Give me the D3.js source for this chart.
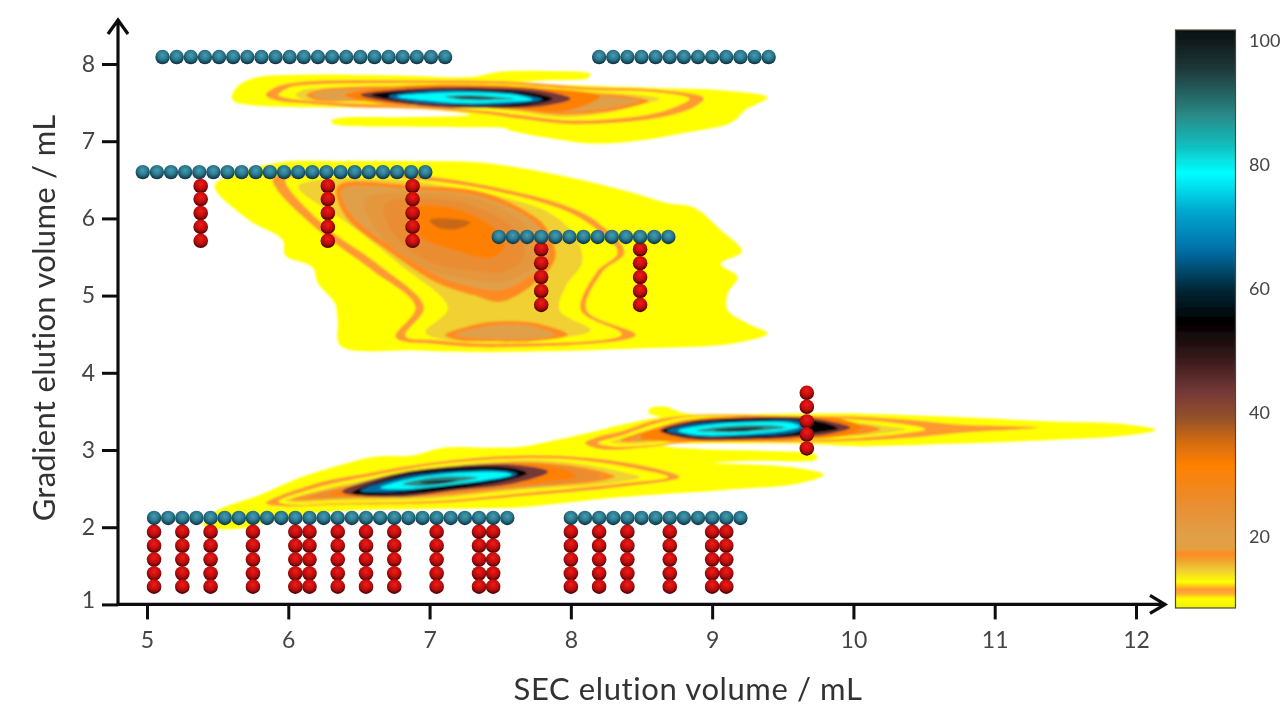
<!DOCTYPE html>
<html><head><meta charset="utf-8">
<script src="https://cdn.jsdelivr.net/npm/d3@7/dist/d3.min.js"></script>
<style>html,body{margin:0;background:#fff}svg{display:block}text{font-family:Lato,sans-serif}</style>
</head><body><svg id="c" width="1281" height="707"></svg>
<script>
// ---------- axes ----------
const xTicks=[5,6,7,8,9,10,11,12];
const yTicks=[1,2,3,4,5,6,7,8];
const barTicks=[20,40,60,80,100];
const xTitle="SEC elution volume / mL";
const yTitle="Gradient elution volume / mL";
// ---------- colour bar ----------
const colorValues=[8.5,10,10.8,11.5,12.7,14.5,16.3,17.3,18,20,25.6,31.5,35.5,39,43.5,49,54.7,60,66.3,72.6,78.7,83,88,95.3,101.8];
const colorHexes=["#f2f000","#ffff00","#fbb030","#ff9a30","#ffff00","#f0d030","#efa030","#ff8a20","#e5a040","#e0a048","#ea8c30","#ff8000","#d06a10","#96522a","#733838","#35181a","#000000","#032838","#0670a8","#00a8d0","#00ffff","#10c0c0","#2a8a88","#1f3a3a","#0a0f10"];
// ---------- contour rings: [level, [[SEC mL, gradient mL], ...]] ----------
const topBlob=[
[10,[[5.60,7.57],[5.64,7.71],[5.76,7.82],[6.08,7.86],[6.79,7.85],[7.29,7.83],[7.50,7.90],[7.82,7.91],[8.14,7.87],[8.12,7.82],[7.82,7.79],[7.57,7.75],[7.92,7.73],[8.28,7.71],[8.63,7.69],[9.06,7.66],[9.39,7.57],[9.35,7.51],[9.23,7.40],[9.18,7.30],[9.11,7.22],[8.84,7.12],[8.49,7.01],[8.14,6.97],[7.85,7.04],[7.57,7.14],[7.53,7.17],[7.29,7.18],[6.79,7.19],[6.33,7.22],[6.30,7.26],[6.37,7.30],[6.79,7.31],[7.29,7.34],[7.07,7.40],[6.72,7.43],[6.08,7.44],[5.73,7.47],[5.62,7.51]]],
[11.5,[[5.84,7.60],[5.91,7.70],[6.10,7.77],[6.93,7.79],[7.50,7.78],[8.14,7.70],[8.60,7.67],[8.94,7.56],[8.88,7.45],[8.61,7.30],[8.02,7.22],[7.64,7.29],[7.41,7.35],[6.93,7.42],[6.46,7.44],[6.10,7.49],[5.91,7.53]]],
[12.7,[[5.93,7.60],[6.00,7.69],[6.15,7.73],[6.93,7.75],[7.50,7.74],[8.14,7.66],[8.56,7.64],[8.84,7.55],[8.77,7.47],[8.56,7.35],[8.02,7.27],[7.64,7.34],[7.41,7.39],[6.93,7.46],[6.46,7.49],[6.12,7.53],[5.99,7.56]]],
[14.5,[[6.05,7.60],[6.10,7.66],[6.22,7.69],[6.93,7.73],[7.50,7.72],[8.14,7.64],[8.49,7.60],[8.63,7.55],[8.49,7.47],[8.21,7.35],[7.92,7.31],[7.64,7.38],[7.41,7.43],[6.93,7.49],[6.46,7.51],[6.15,7.53]]],
[17.3,[[6.13,7.60],[6.21,7.66],[6.44,7.70],[6.93,7.70],[7.50,7.69],[8.14,7.62],[8.42,7.58],[8.55,7.52],[8.42,7.44],[8.14,7.36],[7.89,7.35],[7.64,7.40],[7.41,7.45],[6.93,7.50],[6.46,7.52],[6.21,7.53]]],
[20,[[6.17,7.60],[6.26,7.65],[6.47,7.67],[6.93,7.67],[7.50,7.66],[8.14,7.60],[8.38,7.56],[8.49,7.52],[8.38,7.47],[8.14,7.40],[7.89,7.38],[7.64,7.43],[7.41,7.48],[6.93,7.52],[6.46,7.53],[6.26,7.54]]],
[31.5,[[6.40,7.60],[6.79,7.71],[7.36,7.73],[7.78,7.69],[8.21,7.58],[7.99,7.40],[7.64,7.41],[7.07,7.46],[6.65,7.49]]],
[43.5,[[6.51,7.60],[6.93,7.69],[7.36,7.70],[7.78,7.66],[8.00,7.55],[7.78,7.45],[7.36,7.43],[6.93,7.46]]],
[55,[[6.59,7.60],[6.93,7.66],[7.36,7.67],[7.71,7.63],[7.87,7.55],[7.71,7.47],[7.36,7.45],[6.93,7.49]]],
[66,[[6.71,7.58],[7.00,7.65],[7.36,7.65],[7.67,7.60],[7.80,7.54],[7.64,7.49],[7.29,7.47],[6.93,7.50]]],
[79,[[6.77,7.58],[7.00,7.62],[7.36,7.63],[7.64,7.59],[7.73,7.54],[7.57,7.51],[7.25,7.49],[6.96,7.53]]],
[88,[[7.11,7.58],[7.29,7.60],[7.46,7.58],[7.60,7.55],[7.43,7.53],[7.21,7.54]]],
[96,[[7.18,7.57],[7.36,7.57],[7.46,7.55],[7.32,7.55],[7.20,7.56]]]
];
const middleBlob=[
[10,[[5.48,6.42],[5.66,6.60],[5.96,6.73],[6.37,6.74],[6.93,6.74],[7.38,6.72],[7.97,6.54],[8.44,6.33],[8.68,6.20],[8.87,6.14],[9.06,5.85],[9.21,5.57],[9.06,5.41],[9.18,5.24],[9.11,5.03],[9.11,4.81],[9.25,4.64],[9.39,4.51],[9.15,4.38],[8.56,4.32],[7.50,4.27],[6.91,4.29],[6.37,4.35],[6.35,4.68],[6.33,4.90],[6.21,5.16],[6.17,5.37],[5.98,5.52],[5.96,5.72],[5.72,5.98]]],
[11.5,[[5.89,6.52],[6.08,6.60],[6.65,6.60],[7.10,6.52],[7.50,6.39],[7.97,6.16],[8.19,5.95],[8.38,5.56],[8.22,5.30],[8.11,4.81],[8.46,4.49],[7.50,4.33],[7.06,4.37],[6.76,4.46],[6.90,4.85],[6.59,5.33],[6.21,5.85],[5.92,6.37]]],
[12.7,[[5.98,6.50],[6.12,6.55],[6.65,6.55],[7.07,6.47],[7.50,6.34],[7.96,6.10],[8.15,5.90],[8.33,5.56],[8.18,5.30],[8.07,4.81],[8.36,4.50],[7.50,4.38],[7.07,4.42],[6.83,4.48],[6.96,4.85],[6.64,5.40],[6.26,5.90]]],
[14.5,[[6.07,6.41],[6.22,6.50],[6.79,6.50],[7.15,6.41],[7.57,6.25],[7.85,6.07],[8.03,5.78],[8.08,5.43],[7.97,5.14],[7.92,4.81],[8.14,4.55],[7.50,4.41],[7.07,4.44],[6.97,4.53],[7.13,4.84],[6.79,5.40],[6.44,5.91]]],
[17.3,[[6.35,6.42],[6.40,6.04],[6.73,5.55],[7.06,5.16],[7.32,5.00],[7.50,4.92],[7.73,5.14],[7.89,5.49],[7.82,5.89],[7.73,6.04],[7.38,6.34],[6.91,6.42]]],
[20,[[6.38,6.37],[6.44,6.06],[6.76,5.60],[7.09,5.23],[7.34,5.10],[7.50,5.07],[7.70,5.24],[7.84,5.51],[7.77,5.88],[7.68,6.03],[7.36,6.28],[6.90,6.37]]],
[22.5,[[6.54,6.24],[6.93,6.33],[7.36,6.24],[7.68,5.91],[7.79,5.52],[7.57,5.20],[7.29,5.20],[6.97,5.36],[6.68,5.72]]],
[25.6,[[6.68,6.17],[6.93,6.26],[7.29,6.17],[7.60,5.85],[7.67,5.52],[7.53,5.31],[7.29,5.33],[7.00,5.44],[6.75,5.79]]],
[31.5,[[6.86,6.11],[7.11,6.15],[7.43,5.91],[7.53,5.65],[7.43,5.49],[7.18,5.59],[6.93,5.78]]],
[36,[[7.00,5.98],[7.14,6.00],[7.29,5.95],[7.21,5.87],[7.06,5.88]]],
[17.3,[[7.11,4.49],[7.25,4.59],[7.43,4.66],[7.73,4.65],[7.98,4.49],[7.73,4.41],[7.43,4.41],[7.21,4.42]]],
[20,[[7.18,4.49],[7.43,4.61],[7.71,4.61],[7.89,4.49],[7.71,4.44],[7.43,4.44]]]
];
const bottomBlob=[
[10,[[5.40,2.03],[5.48,2.20],[5.80,2.42],[6.08,2.64],[6.32,2.78],[6.60,2.91],[6.88,2.93],[7.10,3.03],[7.38,3.03],[7.64,3.04],[7.95,3.15],[8.35,3.26],[8.63,3.06],[8.92,3.01],[9.34,2.99],[9.74,2.93],[9.74,2.88],[9.27,2.86],[9.01,2.83],[9.55,2.78],[9.79,2.68],[9.62,2.57],[9.06,2.48],[8.35,2.39],[7.64,2.26],[7.05,2.24],[6.37,2.21],[5.87,2.09],[5.69,1.99],[5.48,1.98]]],
[11.5,[[5.84,2.31],[6.20,2.57],[6.56,2.70],[7.03,2.84],[7.64,2.93],[8.12,2.90],[8.58,2.77],[8.77,2.65],[8.35,2.52],[7.64,2.40],[7.03,2.31],[6.32,2.29],[5.98,2.27]]],
[12.7,[[5.93,2.33],[6.22,2.52],[6.58,2.66],[7.04,2.81],[7.64,2.89],[8.10,2.86],[8.53,2.73],[8.69,2.65],[8.32,2.56],[7.64,2.44],[7.03,2.34],[6.32,2.31],[6.05,2.29]]],
[14.5,[[5.98,2.34],[6.26,2.50],[6.62,2.64],[7.07,2.78],[7.64,2.87],[8.07,2.82],[8.38,2.71],[8.49,2.65],[8.28,2.57],[7.64,2.48],[7.03,2.37],[6.32,2.34],[6.08,2.32]]],
[17.3,[[6.02,2.35],[6.30,2.49],[6.65,2.61],[7.09,2.76],[7.64,2.84],[8.03,2.79],[8.24,2.71],[8.31,2.66],[8.21,2.60],[7.64,2.51],[7.03,2.40],[6.32,2.37],[6.12,2.35]]],
[20,[[6.05,2.36],[6.30,2.47],[6.65,2.58],[7.09,2.71],[7.64,2.81],[7.99,2.75],[8.17,2.70],[8.23,2.66],[8.13,2.61],[7.64,2.55],[7.03,2.43],[6.32,2.40],[6.12,2.38]]],
[25.6,[[6.15,2.39],[6.65,2.60],[7.07,2.74],[7.64,2.83],[7.99,2.78],[8.21,2.66],[7.92,2.56],[7.29,2.47],[6.79,2.40],[6.37,2.38]]],
[31.5,[[6.30,2.43],[6.65,2.58],[7.07,2.73],[7.64,2.82],[7.92,2.77],[8.04,2.66],[7.78,2.58],[7.29,2.49],[6.79,2.43],[6.44,2.40]]],
[43.5,[[6.38,2.46],[6.75,2.69],[7.18,2.79],[7.60,2.81],[7.84,2.72],[7.60,2.57],[7.15,2.47],[6.76,2.39]]],
[55,[[6.45,2.44],[6.76,2.66],[7.18,2.77],[7.57,2.77],[7.69,2.70],[7.53,2.60],[7.15,2.49],[6.79,2.42]]],
[66,[[6.51,2.47],[6.79,2.64],[7.22,2.73],[7.53,2.73],[7.62,2.69],[7.46,2.61],[7.11,2.54],[6.76,2.46]]],
[79,[[6.65,2.51],[6.90,2.64],[7.25,2.71],[7.53,2.71],[7.58,2.68],[7.43,2.62],[7.11,2.54],[6.79,2.49]]],
[88,[[6.81,2.56],[7.00,2.64],[7.23,2.66],[7.34,2.64],[7.14,2.57],[6.93,2.53]]],
[96,[[6.93,2.58],[7.07,2.61],[7.20,2.61],[7.11,2.57],[6.99,2.56]]]
];
const rightBlob=[
[10,[[7.92,3.09],[8.21,3.26],[8.49,3.38],[8.63,3.43],[8.55,3.48],[8.56,3.54],[8.67,3.56],[8.76,3.50],[8.84,3.47],[9.62,3.47],[10.05,3.47],[10.69,3.43],[11.39,3.37],[11.89,3.34],[12.14,3.26],[11.89,3.18],[11.39,3.13],[10.69,3.08],[10.05,3.05],[9.62,3.08],[8.70,3.08],[8.21,3.04],[7.92,3.00]]],
[11.5,[[8.10,3.09],[8.21,3.18],[8.35,3.24],[8.58,3.38],[8.84,3.45],[9.62,3.44],[10.05,3.43],[10.47,3.38],[10.75,3.33],[11.31,3.29],[10.75,3.22],[10.47,3.17],[10.05,3.12],[9.62,3.10],[8.84,3.10],[8.56,3.04],[8.21,3.01]]],
[12.7,[[8.19,3.09],[8.35,3.18],[8.60,3.34],[8.84,3.43],[9.62,3.42],[10.05,3.39],[10.33,3.34],[10.51,3.27],[10.33,3.21],[10.05,3.16],[9.62,3.13],[8.84,3.13],[8.56,3.06],[8.28,3.05]]],
[14.5,[[8.28,3.10],[8.42,3.19],[8.63,3.31],[8.84,3.40],[9.62,3.39],[10.01,3.36],[10.22,3.31],[10.37,3.27],[10.22,3.22],[10.01,3.18],[9.62,3.16],[8.84,3.16],[8.56,3.09],[8.35,3.08]]],
[17.3,[[8.35,3.12],[8.56,3.26],[8.84,3.39],[9.62,3.38],[9.98,3.35],[10.12,3.31],[10.19,3.27],[10.12,3.23],[9.98,3.19],[9.62,3.17],[8.84,3.17],[8.56,3.12]]],
[20,[[8.42,3.13],[8.60,3.25],[8.84,3.36],[9.62,3.35],[9.94,3.32],[10.06,3.27],[9.94,3.21],[9.62,3.18],[8.84,3.17],[8.56,3.15]]],
[31.5,[[8.49,3.17],[8.67,3.31],[8.92,3.41],[9.62,3.43],[9.94,3.39],[10.06,3.29],[9.94,3.19],[9.55,3.13],[8.92,3.11],[8.63,3.12]]],
[43.5,[[8.63,3.25],[8.84,3.37],[9.62,3.42],[9.84,3.37],[9.98,3.29],[9.84,3.21],[9.55,3.16],[8.92,3.13],[8.76,3.17]]],
[55,[[8.65,3.25],[8.84,3.35],[9.20,3.40],[9.62,3.40],[9.82,3.34],[9.89,3.28],[9.76,3.23],[9.48,3.17],[8.92,3.16],[8.77,3.18]]],
[66,[[8.68,3.25],[8.88,3.34],[9.20,3.37],[9.62,3.37],[9.68,3.31],[9.59,3.23],[9.20,3.18],[8.88,3.18]]],
[79,[[8.76,3.25],[8.95,3.32],[9.23,3.36],[9.56,3.35],[9.62,3.30],[9.51,3.25],[9.20,3.20],[8.92,3.19]]],
[88,[[8.89,3.25],[9.06,3.30],[9.41,3.32],[9.52,3.29],[9.41,3.26],[9.09,3.23]]],
[96,[[9.02,3.26],[9.23,3.29],[9.37,3.29],[9.27,3.25],[9.09,3.24]]]
];
// ---------- sampled conditions ----------
const blueRowTopLeftX=[5.11,5.21,5.31,5.41,5.51,5.61,5.71,5.81,5.91,6.01,6.11,6.21,6.31,6.41,6.51,6.61,6.71,6.81,6.91,7.01,7.11];
const blueRowTopRightX=[8.20,8.30,8.40,8.50,8.60,8.70,8.80,8.90,9.00,9.10,9.20,9.30,9.40];
const blueRowUpperX=[4.97,5.07,5.17,5.27,5.37,5.47,5.57,5.67,5.77,5.87,5.97,6.07,6.17,6.27,6.37,6.47,6.57,6.67,6.77,6.87,6.97];
const blueRowMiddleX=[7.49,7.59,7.69,7.79,7.89,7.99,8.09,8.19,8.29,8.39,8.49,8.59,8.69];
const blueRowLowLeftX=[5.05,5.15,5.25,5.35,5.45,5.55,5.65,5.75,5.85,5.95,6.05,6.15,6.25,6.35,6.45,6.55,6.65,6.75,6.85,6.95,7.05,7.15,7.25,7.35,7.45,7.55];
const blueRowLowRightX=[8.00,8.10,8.20,8.30,8.40,8.50,8.60,8.70,8.80,8.90,9.00,9.10,9.20];
const blueRowY={topLeft:8.09,topRight:8.09,upper:6.60,middle:5.76,lowLeft:2.12,lowRight:2.12};
const redLowColumnsX=[5.05,5.25,5.45,5.75,6.05,6.15,6.35,6.55,6.75,7.05,7.35,7.45,8.00,8.20,8.40,8.70,9.00,9.10];
const redLowY=[1.94,1.76,1.58,1.40,1.23];
const redUpperColumnsX=[5.38,6.28,6.88];
const redUpperY=[6.42,6.25,6.07,5.89,5.71];
const redMiddleColumnsX=[7.79,8.49];
const redMiddleY=[5.60,5.42,5.24,5.06,4.88];
const redRightColumnsX=[9.67];
const redRightY=[3.74,3.56,3.37,3.20,3.02];

// ---------- drawing ----------
const svg=d3.select("#c");
const x=d3.scaleLinear().domain([5,12]).range([147,1136]);
const y=d3.scaleLinear().domain([1,8]).range([604.4,64]);
const barY=d3.scaleLinear().domain([8.5,101.8]).range([608,30]);
const color=d3.scaleLinear().domain(colorValues).range(colorHexes);
const defs=svg.append("defs");
const f1=defs.append("filter").attr("id","soft").attr("x","-5%").attr("y","-5%").attr("width","110%").attr("height","110%");
f1.append("feGaussianBlur").attr("stdDeviation",1);
const f2=defs.append("filter").attr("id","soft2").attr("x","-5%").attr("y","-5%").attr("width","110%").attr("height","110%");
f2.append("feGaussianBlur").attr("stdDeviation",0.6);
const blueG=defs.append("radialGradient").attr("id","blueBall").attr("cx","50%").attr("cy","38%").attr("r","62%");
[[0,"#479cb0"],[0.5,"#2b7a90"],[0.85,"#154658"],[1,"#0d2c3a"]].forEach(s=>blueG.append("stop").attr("offset",s[0]).attr("stop-color",s[1]));
const redG=defs.append("radialGradient").attr("id","redBall").attr("cx","50%").attr("cy","35%").attr("r","65%");
[[0,"#e8201a"],[0.5,"#cc0a0a"],[0.85,"#6e0606"],[1,"#3a0404"]].forEach(s=>redG.append("stop").attr("offset",s[0]).attr("stop-color",s[1]));
const ring=d3.line().x(d=>x(d[0])).y(d=>y(d[1])).curve(d3.curveCatmullRomClosed.alpha(0.5));
const mapG=svg.append("g").attr("filter","url(#soft)");
[topBlob,middleBlob,bottomBlob,rightBlob].forEach(b=>{
  mapG.append("g").selectAll("path").data(b).join("path")
    .attr("d",d=>ring(d[1])).attr("fill",d=>color(d[0]));
});
// axes
const axG=svg.append("g").attr("filter","url(#soft2)");
const xAxis=d3.axisBottom(x).tickValues(xTicks).tickSize(15).tickPadding(12).tickFormat(d3.format("d"));
const yAxis=d3.axisLeft(y).tickValues(yTicks).tickSize(16).tickPadding(7).tickFormat(d3.format("d"));
const gx=axG.append("g").attr("transform","translate(0,604.4)").call(xAxis);
const gy=axG.append("g").attr("transform","translate(118,0)").call(yAxis);
[gx,gy].forEach(g=>{
  g.select(".domain").remove();
  g.selectAll(".tick line").attr("stroke","#0c0c0c").attr("stroke-width",3);
  g.selectAll("text").attr("font-size",23).attr("fill","#444");
});
gy.selectAll(".tick text").filter(d=>d===1).attr("dy","0.15em");
const x0=118,xEnd=x(12)+30,yTop=y(8)-45,y0=y(1);
axG.append("path").attr("d",`M${x0},${y0}V${yTop}M${x0-10},${yTop+15}L${x0},${yTop+1}L${x0+10},${yTop+15}`)
  .attr("fill","none").attr("stroke","#0c0c0c").attr("stroke-width",3.2);
axG.append("path").attr("d",`M${x0},${y0}H${xEnd}M${xEnd-16},${y0-9}L${xEnd-1},${y0}L${xEnd-16},${y0+9}`)
  .attr("fill","none").attr("stroke","#0c0c0c").attr("stroke-width",3.2);
axG.append("text").attr("x",688).attr("y",700).attr("text-anchor","middle").attr("font-size",31).attr("letter-spacing",0.6).attr("fill","#333").text(xTitle);
axG.append("text").attr("transform","translate(55,318) rotate(-90)").attr("text-anchor","middle").attr("font-size",31).attr("letter-spacing",0.3).attr("fill","#333").text(yTitle);
// dots
const dotsG=svg.append("g").attr("filter","url(#soft2)");
function cols(xs,ys){return xs.flatMap(a=>ys.map(b=>[a,b]));}
const redDots=[].concat(cols(redLowColumnsX,redLowY),cols(redUpperColumnsX,redUpperY),cols(redMiddleColumnsX,redMiddleY),cols(redRightColumnsX,redRightY));
dotsG.append("g").selectAll("circle").data(redDots).join("circle")
  .attr("cx",d=>x(d[0])).attr("cy",d=>y(d[1])).attr("r",7.3).attr("fill","url(#redBall)");
const blueDots=[].concat(cols(blueRowTopLeftX,[blueRowY.topLeft]),cols(blueRowTopRightX,[blueRowY.topRight]),cols(blueRowUpperX,[blueRowY.upper]),cols(blueRowMiddleX,[blueRowY.middle]),cols(blueRowLowLeftX,[blueRowY.lowLeft]),cols(blueRowLowRightX,[blueRowY.lowRight]));
dotsG.append("g").selectAll("circle").data(blueDots).join("circle")
  .attr("cx",d=>x(d[0])).attr("cy",d=>y(d[1])).attr("r",7.2).attr("fill","url(#blueBall)");
// colour bar
const grad=defs.append("linearGradient").attr("id","bar").attr("x1",0).attr("x2",0).attr("y1",1).attr("y2",0);
const barDomain=barY.domain();
colorValues.forEach((v,i)=>grad.append("stop").attr("offset",(v-barDomain[0])/(barDomain[1]-barDomain[0])).attr("stop-color",colorHexes[i]));
const barG=svg.append("g").attr("filter","url(#soft2)");
barG.append("rect").attr("x",1175.5).attr("width",60).attr("y",barY(barDomain[1])).attr("height",barY(barDomain[0])-barY(barDomain[1]))
  .attr("fill","url(#bar)").attr("stroke","#4a4a38").attr("stroke-width",1.2);
const barAxis=d3.axisRight(barY).tickValues(barTicks).tickSize(0).tickPadding(14).tickFormat(d3.format("d"));
const gb=barG.append("g").attr("transform","translate(1235,0)").call(barAxis);
gb.select(".domain").remove();
gb.selectAll("text").attr("font-size",18).attr("fill","#444");
</script></body></html>
